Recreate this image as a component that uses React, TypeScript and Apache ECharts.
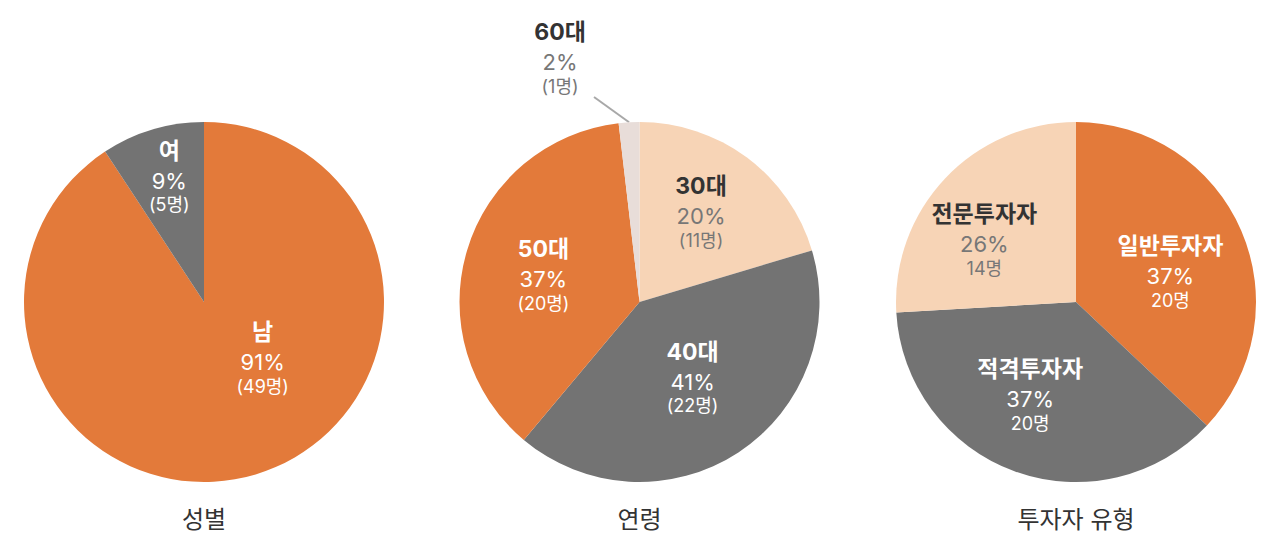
import React, { useEffect, useRef } from "react";
import * as echarts from "echarts";

const genderNames = ["남", "여"];
const genderCounts = [49, 5];

const ageNames = ["30대", "40대", "50대", "60대"];
const ageCounts = [11, 22, 20, 1];

const investorNames = ["일반투자자", "적격투자자", "전문투자자"];
const investorCounts = [20, 20, 14];

const chartTitles = ["성별", "연령", "투자자 유형"];

const ORANGE = "#E37A3A";
const GRAY = "#737373";
const PEACH = "#F7D4B6";
const LIGHT = "#E8DDD9";
const FONT = "Inter, 'Noto Sans CJK KR', sans-serif";

const lightRich = {
  n: { fontSize: 23, fontWeight: "bold", color: "#fff", lineHeight: 32, fontFamily: FONT },
  p: { fontSize: 22, color: "#fff", lineHeight: 28, fontFamily: FONT },
  c: { fontSize: 18, color: "#fff", lineHeight: 20, fontFamily: FONT },
};
const darkRich = {
  n: { fontSize: 23, fontWeight: "bold", color: "#333", lineHeight: 32, fontFamily: FONT },
  p: { fontSize: 22, color: "#777", lineHeight: 28, fontFamily: FONT },
  c: { fontSize: 18, color: "#777", lineHeight: 20, fontFamily: FONT },
};

function makeSeries(
  names: string[],
  counts: number[],
  colors: string[],
  darkText: boolean[],
  cx: number,
  offsets: number[][],
  paren: boolean
) {
  const fmt = paren ? "{n|{b}}\n{p|{d}%}\n{c|({c}명)}" : "{n|{b}}\n{p|{d}%}\n{c|{c}명}";
  return {
    type: "pie",
    center: [cx, 294],
    radius: 180,
    startAngle: 90,
    clockwise: true,
    percentPrecision: 0,
    silent: true,
    label: { show: true, position: "inside", formatter: fmt },
    labelLine: { show: false },
    labelLayout: (p: any) => {
      const o = offsets[p.dataIndex];
      if (!o) return {};
      if (o.length === 2) return { dx: o[0], dy: o[1] };
      const start = p.labelLinePoints && p.labelLinePoints[0];
      const res: any = { x: o[0], y: o[1], align: "center", verticalAlign: "middle" };
      if (start) res.labelLinePoints = [start, [o[2], o[3]], [o[2], o[3]]];
      return res;
    },
    data: names.map((name, i) => ({
      name,
      value: counts[i],
      itemStyle: { color: colors[i], borderWidth: 0 },
      label: { rich: darkText[i] ? darkRich : lightRich },
    })),
  };
}

export default function App() {
  const ref = useRef<HTMLDivElement>(null);
  useEffect(() => {
    if (!ref.current) return;
    const chart = echarts.init(ref.current, undefined, { renderer: "svg" });
    const s1 = makeSeries(genderNames, genderCounts, [ORANGE, GRAY], [false, false], 196, [[32, -35], [-8, -38]], true);
    const s2: any = makeSeries(
      ageNames,
      ageCounts,
      [PEACH, GRAY, ORANGE, LIGHT],
      [true, false, false, true],
      631.5,
      [[6, -17], [2, -4], [-7, -2], [552, 48, 586, 89]],
      true
    );
    s2.data[3].label = { ...s2.data[3].label, position: "outside" };
    s2.data[3].labelLine = { show: true, length: 20, length2: 0, lineStyle: { color: "#A8A8A8", width: 2 } };
    const s3 = makeSeries(
      investorNames,
      investorCounts,
      [ORANGE, GRAY, PEACH],
      [false, false, true],
      1068,
      [[9, 5], [-14, 4], [-24, 0]],
      false
    );
    const centers = [196, 631.5, 1068];
    chart.setOption({
      animation: false,
      graphic: chartTitles.map((t, i) => ({
        type: "text",
        x: centers[i],
        y: 511,
        style: {
          text: t,
          textAlign: "center",
          textVerticalAlign: "middle",
          fontSize: 24,
          fill: "#333",
          fontFamily: FONT,
        },
      })),
      series: [s1, s2, s3],
    });
    return () => chart.dispose();
  }, []);
  return <div ref={ref} style={{ width: 1264, height: 528 }} />;
}
